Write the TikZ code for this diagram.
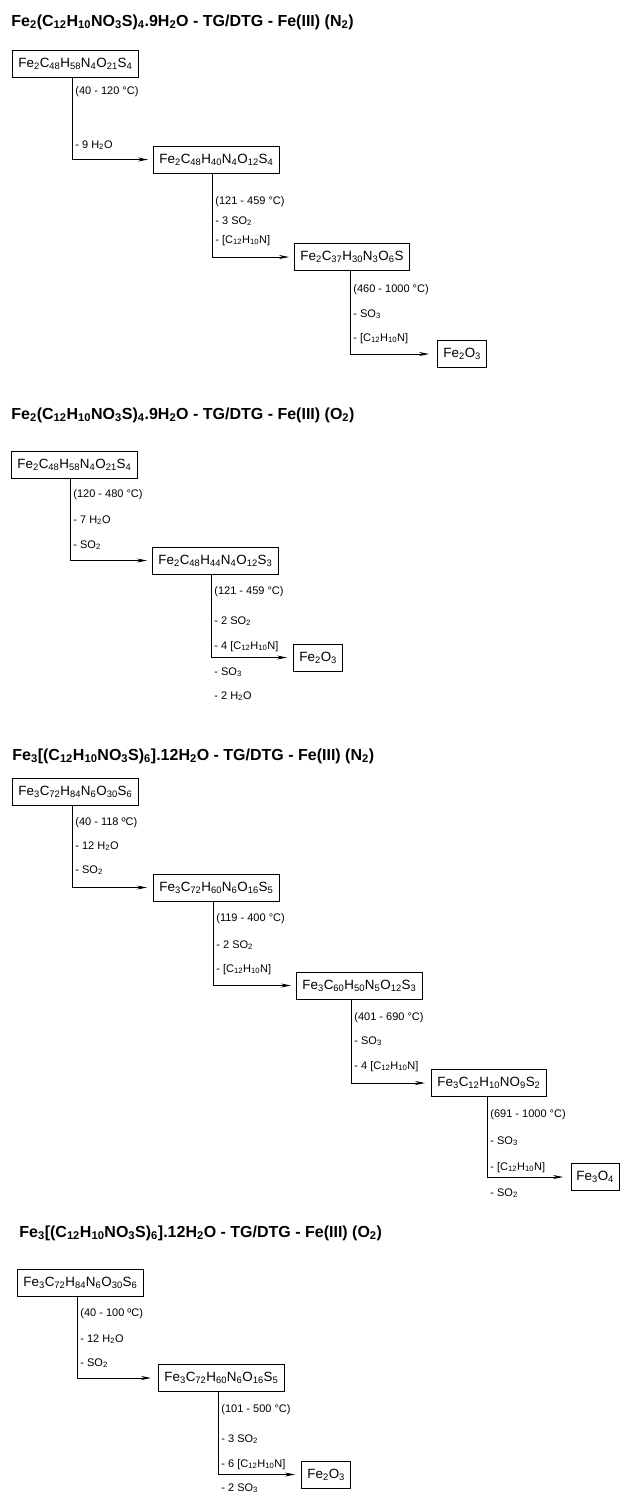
\documentclass[tikz,border=0pt]{standalone}
\usepackage{fontspec}
\setmainfont{Liberation Sans}
\usetikzlibrary{arrows.meta}
\newcommand{\ix}[1]{\textsubscript{#1}}

\begin{document}
\begin{tikzpicture}[x=1pt, y=-1pt, >={Stealth[length=10pt,width=4pt]}, line width=0.8pt,
  cmpd/.style={draw, anchor=west, inner xsep=6pt, inner ysep=0pt, minimum height=27pt, font=\fontsize{13.4}{15}\selectfont},
  ttl/.style={anchor=base west, inner sep=0pt, font=\fontsize{16}{18}\selectfont\bfseries},
  lbl/.style={anchor=base west, inner sep=0pt, font=\fontsize{11}{12}\selectfont}]
  \useasboundingbox (0,0) rectangle (621,1492);

  \node[ttl] (t1) at (11,26) {Fe\ix{2}(C\ix{12}H\ix{10}NO\ix{3}S)\ix{4}.9H\ix{2}O - TG/DTG - Fe(III) (N\ix{2})};
  \node[cmpd] (a1) at (12,63.5) {Fe\ix{2}C\ix{48}H\ix{58}N\ix{4}O\ix{21}S\ix{4}};
  \node[cmpd] (a2) at (153,159.5) {Fe\ix{2}C\ix{48}H\ix{40}N\ix{4}O\ix{12}S\ix{4}};
  \node[cmpd] (a3) at (294,257) {Fe\ix{2}C\ix{37}H\ix{30}N\ix{3}O\ix{6}S};
  \node[cmpd] (a4) at (437,354) {Fe\ix{2}O\ix{3}};
  \draw[->, shorten >=5pt] ([xshift=60pt]a1.south west) |- (a2.west);
  \draw[->, shorten >=5pt] ([xshift=59pt]a2.south west) |- (a3.west);
  \draw[->, shorten >=8pt] ([xshift=56pt]a3.south west) |- (a4.west);
  \node[lbl] (a1t) at (75,94) {(40 - 120 °C)};
  \node[lbl] (a1h) at (75,148) {- 9 H\ix{2}O};
  \node[lbl] (a2t) at (215,204) {(121 - 459 °C)};
  \node[lbl] (a2s) at (215,224) {- 3 SO\ix{2}};
  \node[lbl] (a2c) at (215,243) {- [C\ix{12}H\ix{10}N]};
  \node[lbl] (a3t) at (353,292) {(460 - 1000 °C)};
  \node[lbl] (a3s) at (353,317) {- SO\ix{3}};
  \node[lbl] (a3c) at (353,341) {- [C\ix{12}H\ix{10}N]};

  \node[ttl] (t2) at (11,419) {Fe\ix{2}(C\ix{12}H\ix{10}NO\ix{3}S)\ix{4}.9H\ix{2}O - TG/DTG - Fe(III) (O\ix{2})};
  \node[cmpd] (b1) at (11,464.5) {Fe\ix{2}C\ix{48}H\ix{58}N\ix{4}O\ix{21}S\ix{4}};
  \node[cmpd] (b2) at (152,560.5) {Fe\ix{2}C\ix{48}H\ix{44}N\ix{4}O\ix{12}S\ix{3}};
  \node[cmpd] (b3) at (293,657.5) {Fe\ix{2}O\ix{3}};
  \draw[->, shorten >=5pt] ([xshift=59pt]b1.south west) |- (b2.west);
  \draw[->, shorten >=6pt] ([xshift=59pt]b2.south west) |- (b3.west);
  \node[lbl] (b1t) at (73,497) {(120 - 480 °C)};
  \node[lbl] (b1h) at (73,523) {- 7 H\ix{2}O};
  \node[lbl] (b1s) at (73,548) {- SO\ix{2}};
  \node[lbl] (b2t) at (214,594) {(121 - 459 °C)};
  \node[lbl] (b2s) at (214,624) {- 2 SO\ix{2}};
  \node[lbl] (b2c) at (214,649) {- 4 [C\ix{12}H\ix{10}N]};
  \node[lbl] (b2o) at (214,675) {- SO\ix{3}};
  \node[lbl] (b2h) at (214,699) {- 2 H\ix{2}O};

  \node[ttl] (t3) at (12,760) {Fe\ix{3}[(C\ix{12}H\ix{10}NO\ix{3}S)\ix{6}].12H\ix{2}O - TG/DTG - Fe(III) (N\ix{2})};
  \node[cmpd] (c1) at (12,792) {Fe\ix{3}C\ix{72}H\ix{84}N\ix{6}O\ix{30}S\ix{6}};
  \node[cmpd] (c2) at (153,887.5) {Fe\ix{3}C\ix{72}H\ix{60}N\ix{6}O\ix{16}S\ix{5}};
  \node[cmpd] (c3) at (296,985.5) {Fe\ix{3}C\ix{60}H\ix{50}N\ix{5}O\ix{12}S\ix{3}};
  \node[cmpd] (c4) at (431,1083) {Fe\ix{3}C\ix{12}H\ix{10}NO\ix{9}S\ix{2}};
  \node[cmpd, inner xsep=5pt] (c5) at (571,1177) {Fe\ix{3}O\ix{4}};
  \draw[->, shorten >=6pt] ([xshift=60pt]c1.south west) |- (c2.west);
  \draw[->, shorten >=5pt] ([xshift=60pt]c2.south west) |- (c3.west);
  \draw[->, shorten >=6pt] ([xshift=55pt]c3.south west) |- (c4.west);
  \draw[->, shorten >=8pt] ([xshift=56pt]c4.south west) |- (c5.west);
  \node[lbl] (c1t) at (75,825) {(40 - 118 ºC)};
  \node[lbl] (c1h) at (75,849) {- 12 H\ix{2}O};
  \node[lbl] (c1s) at (75,873) {- SO\ix{2}};
  \node[lbl] (c2t) at (216,921) {(119 - 400 °C)};
  \node[lbl] (c2s) at (216,948) {- 2 SO\ix{2}};
  \node[lbl] (c2c) at (216,972) {- [C\ix{12}H\ix{10}N]};
  \node[lbl] (c3t) at (354,1020) {(401 - 690 °C)};
  \node[lbl] (c3s) at (354,1044) {- SO\ix{3}};
  \node[lbl] (c3c) at (354,1069) {- 4 [C\ix{12}H\ix{10}N]};
  \node[lbl] (c4t) at (490,1117) {(691 - 1000 °C)};
  \node[lbl] (c4s) at (490,1144) {- SO\ix{3}};
  \node[lbl] (c4c) at (490,1170) {- [C\ix{12}H\ix{10}N]};
  \node[lbl] (c4o) at (490,1196) {- SO\ix{2}};

  \node[ttl] (t4) at (19,1237) {Fe\ix{3}[(C\ix{12}H\ix{10}NO\ix{3}S)\ix{6}].12H\ix{2}O - TG/DTG - Fe(III) (O\ix{2})};
  \node[cmpd] (d1) at (17,1282.5) {Fe\ix{3}C\ix{72}H\ix{84}N\ix{6}O\ix{30}S\ix{6}};
  \node[cmpd] (d2) at (158,1378) {Fe\ix{3}C\ix{72}H\ix{60}N\ix{6}O\ix{16}S\ix{5}};
  \node[cmpd] (d3) at (301,1474.5) {Fe\ix{2}O\ix{3}};
  \draw[->, shorten >=7pt] ([xshift=60pt]d1.south west) |- (d2.west);
  \draw[->, shorten >=6pt] ([xshift=60pt]d2.south west) |- (d3.west);
  \node[lbl] (d1t) at (80,1316) {(40 - 100 ºC)};
  \node[lbl] (d1h) at (80,1342) {- 12 H\ix{2}O};
  \node[lbl] (d1s) at (80,1366) {- SO\ix{2}};
  \node[lbl] (d2t) at (221,1412) {(101 - 500 °C)};
  \node[lbl] (d2s) at (221,1442) {- 3 SO\ix{2}};
  \node[lbl] (d2c) at (221,1467) {- 6 [C\ix{12}H\ix{10}N]};
  \node[lbl] (d2o) at (221,1491) {- 2 SO\ix{3}};
\end{tikzpicture}
\end{document}
